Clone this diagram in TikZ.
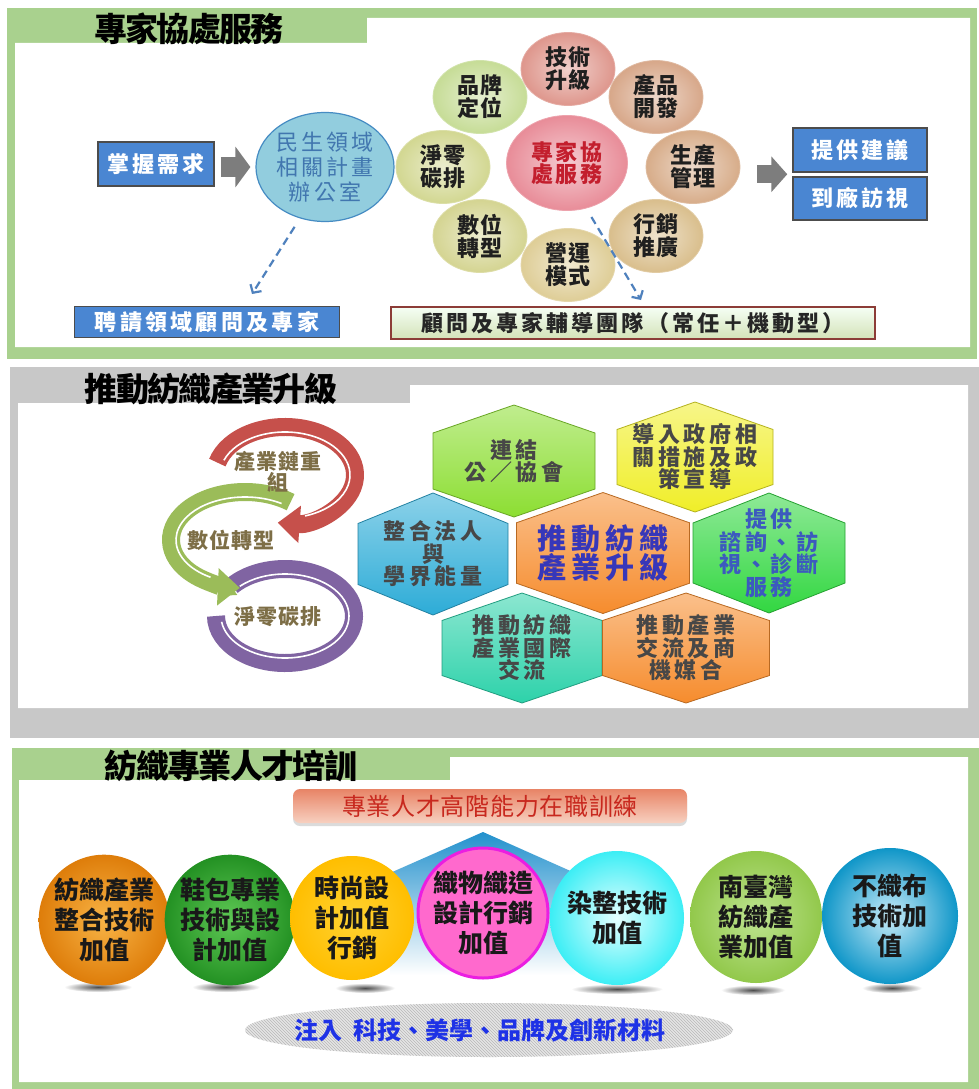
\documentclass[tikz,border=0pt]{standalone}
\usepackage{fontspec}
\setmainfont{Noto Sans CJK TC}
\usetikzlibrary{arrows.meta,shapes.geometric,patterns,positioning,calc,shadows}

\definecolor{framegreen}{RGB}{169,209,142}
\definecolor{framegray}{RGB}{200,200,200}
\definecolor{boxblue}{RGB}{74,134,210}
\definecolor{officefill}{RGB}{146,205,222}
\definecolor{officeline}{RGB}{70,140,195}
\definecolor{officeink}{RGB}{65,118,175}
\definecolor{arrowgray}{RGB}{125,125,125}
\definecolor{dashblue}{RGB}{79,129,189}
\definecolor{coreink}{RGB}{195,30,45}
\definecolor{corefill}{RGB}{232,140,152}
\definecolor{techc}{RGB}{222,150,140}
\definecolor{prodc}{RGB}{215,167,137}
\definecolor{mgmtc}{RGB}{215,172,137}
\definecolor{mktc}{RGB}{217,190,140}
\definecolor{modelc}{RGB}{222,205,150}
\definecolor{digic}{RGB}{212,212,145}
\definecolor{zeroc}{RGB}{210,215,145}
\definecolor{brandc}{RGB}{198,220,150}
\definecolor{teamline}{RGB}{140,60,55}
\definecolor{ringred}{RGB}{198,80,75}
\definecolor{ringgreen}{RGB}{155,188,89}
\definecolor{ringpurple}{RGB}{128,100,162}
\definecolor{ringink}{RGB}{125,110,70}
\definecolor{hexlime}{RGB}{140,222,50}
\definecolor{hexyellow}{RGB}{240,238,40}
\definecolor{hexblue}{RGB}{45,172,215}
\definecolor{hexorange}{RGB}{246,140,45}
\definecolor{hexgreen}{RGB}{50,215,65}
\definecolor{hexteal}{RGB}{45,210,170}
\definecolor{hexinkblue}{RGB}{60,90,190}
\definecolor{coreblue}{RGB}{55,55,185}
\definecolor{courseink}{RGB}{200,40,30}
\definecolor{pinkfill}{RGB}{255,105,205}
\definecolor{pinkline}{RGB}{235,30,225}
\definecolor{injectink}{RGB}{30,50,230}

\newcommand\fsz[3]{\fontsize{#1}{#2}\selectfont\addfontfeature{LetterSpace=#3}}

% honeycomb cell: [text style]{name}{x}{y}{w}{h}{colour}{text}
\newcommand\hexcell[8][hextext]{%
  \path[hexbody=#7] ({#3},{#4-#6/2}) -- ({#3+#5/2},{#4-#6/4}) -- ({#3+#5/2},{#4+#6/4})
    -- ({#3},{#4+#6/2}) -- ({#3-#5/2},{#4+#6/4}) -- ({#3-#5/2},{#4-#6/4}) -- cycle;
  \node[#1] (#2) at (#3,#4) {#8};
}

\tikzset{
  every node/.style={align=center, inner sep=0pt},
  ttl/.style={font=\bfseries\fsz{33}{34}{-5}, text=black},
  bluebox/.style={draw=black!70, line width=1.5pt, fill=boxblue, text=white, font=\bfseries\fsz{22}{22}{15}},
  office/.style={ellipse, draw=officeline, line width=1.2pt, fill=officefill, text=officeink,
    font=\fsz{22}{25}{14}, minimum width=138pt, minimum height=109pt},
  petal/.style={ellipse, minimum width=94pt, minimum height=73pt, inner color=#1!45!white, outer color=#1,
    draw=#1!80!white, line width=0.8pt, text=black!88, font=\bfseries\fsz{22}{23}{9}},
  teambox/.style={draw=teamline, line width=1.5pt, top color=green!4!white, bottom color={rgb,255:red,212;green,226;blue,184},
    text=black!85, font=\bfseries\fsz{22}{22}{14}, minimum width=484pt, minimum height=32pt},
  blockarrow/.style={draw=arrowgray, line width=20pt, -{Triangle[length=15pt,width=40pt]}},
  dasharrow/.style={draw=dashblue, line width=2.2pt, dash pattern=on 8pt off 5pt, shorten <=10pt,
    -{Straight Barb[length=6pt,width=13pt]}},
  ring/.style={draw=#1, line width=18pt},
  shine/.style={draw=white, line width=1.6pt},
  ringtext/.style={text=ringink, font=\bfseries\fsz{21}{16}{5}},
  hexbody/.style={top color=#1!55!white, bottom color=#1, draw=#1!75!black, line width=0.8pt},
  hextext/.style={text=black!72, font=\bfseries\fsz{22}{22.5}{17}},
  sphere/.style={circle, minimum size=#1, text=black!90, font=\bfseries\fsz{25}{30}{0}},
  blob/.style={inner color=black!70, outer color=white}
}

\begin{document}
\begin{tikzpicture}[x=1pt,y=-1pt]
\useasboundingbox (0,0) rectangle (979,1089);
\fill[white] (0,0) rectangle (979,1089);

% ---- 專家協處服務 ----
\fill[framegreen] (7,8) rectangle (977,359);
\fill[white] (15,347) -- (15,43) -- (367,43) -- (367,18) -- (970,18) -- (970,347) -- cycle;
\node[ttl] (t1) at (189,29) {專家協處服務};

\node[bluebox, minimum width=116pt, minimum height=44pt] (need) at (156,164) {掌握需求};
\node[office] (office) at (325,167) {民生領域\\相關計畫\\辦公室};
\draw[blockarrow, shorten <=6pt, shorten >=5pt] (office.west -| need.east) -- (office.west);

\node[petal=brandc] (brand) at (480,97) {品牌\\定位};
\node[petal=zeroc] (netzero) at (443,167) {淨零\\碳排};
\node[petal=digic] (digital) at (480,236) {數位\\轉型};
\node[petal=modelc] (model) at (568,265) {營運\\模式};
\node[petal=mktc] (market) at (656,236) {行銷\\推廣};
\node[petal=mgmtc] (manage) at (693,167) {生產\\管理};
\node[petal=prodc] (product) at (656,97) {產品\\開發};
\node[petal=techc] (tech) at (568,69) {技術\\升級};
\node[ellipse, minimum width=121pt, minimum height=95pt, inner color=corefill!45!white, outer color=corefill,
  draw=corefill!80!white, line width=0.8pt, text=coreink, font=\bfseries\fsz{22}{22}{13}] (core) at (567,163) {專家協\\處服務};

\node[bluebox, minimum width=134pt, minimum height=44pt] (advice) at (860,150) {提供建議};
\node[bluebox, minimum width=134pt, minimum height=43pt] (visit) at (860,198.5) {到廠訪視};
\coordinate (boxgap) at ($(advice.west)!.5!(visit.west)$);
\draw[blockarrow, line width=18pt, -{Triangle[length=16pt,width=35pt]}, shorten <=17pt, shorten >=5pt]
  (manage.east |- boxgap) -- (boxgap);

\node[bluebox, minimum width=265pt, minimum height=31pt] (hire) at (207,322) {聘請領域顧問及專家};
\node[teambox] (team) at (633,323) {顧問及專家輔導團隊（常任＋機動型）};
\coordinate (hiretip) at (252,294);
\coordinate (teamtip) at (641,300);
\draw[dasharrow] (office.-116) -- (hiretip);
\draw[dasharrow] (core.-67) -- (teamtip);

% ---- 推動紡織產業升級 ----
\fill[framegray] (10,367) rectangle (979,738);
\fill[white] (18,708) -- (18,403) -- (410,403) -- (410,385) -- (968,385) -- (968,708) -- cycle;
\node[ttl] (t2) at (211,389) {推動紡織產業升級};

\draw[ring=ringpurple] ({285+69*cos(-140)},{616+47*sin(-140)}) arc[start angle=-140, end angle=180, x radius=69, y radius=47];
\draw[shine] ({285+64*cos(-135)},{616+42*sin(-135)}) arc[start angle=-135, end angle=172, x radius=64, y radius=42];
\draw[ring=ringgreen, -{Triangle[length=22pt,width=36pt]}] ({245+74*cos(-52)},{540+48*sin(-52)})
  arc[start angle=-52, end angle=-266, x radius=74, y radius=48];
\draw[shine] ({245+69*cos(-58)},{540+43*sin(-58)}) arc[start angle=-58, end angle=-240, x radius=69, y radius=43];
\draw[ring=ringred, -{Triangle[length=22pt,width=36pt]}] ({285+70*cos(-165)},{475+48*sin(-165)})
  arc[start angle=-165, end angle=96, x radius=70, y radius=48];
\draw[shine] ({285+65*cos(-160)},{475+43*sin(-160)}) arc[start angle=-160, end angle=72, x radius=65, y radius=43];

\node[ringtext] (chain) at (278,472) {產業鏈重\\組};
\node[ringtext] (digi) at (231,540) {數位轉型};
\node[ringtext] (zero) at (278,617) {淨零碳排};

\hexcell{link}{514}{461}{162}{112}{hexlime}{連結\\公／協會}
\hexcell{policy}{695}{457}{156}{110}{hexyellow}{導入政府相\\關措施及政\\策宣導}
\hexcell{academy}{433}{554}{150}{122}{hexblue}{整合法人\\與\\學界能量}
\hexcell[hextext, text=hexinkblue]{consult}{769}{553}{152}{120}{hexgreen}{提供\\諮詢、訪\\視、診斷\\服務}
\hexcell{intl}{522}{648}{160}{110}{hexteal}{推動紡織\\產業國際\\交流}
\hexcell{match}{686}{648}{167}{110}{hexorange}{推動產業\\交流及商\\機媒合}
\hexcell[text=coreblue, font=\bfseries\fsz{29}{29}{18}]{upgrade}{603}{553}{173}{121}{hexorange}{推動紡織\\產業升級}

% ---- 紡織專業人才培訓 ----
\fill[framegreen] (12,748) rectangle (979,1089);
\fill[white] (19,1082) -- (19,780) -- (450,780) -- (450,757) -- (968,757) -- (968,1082) -- cycle;
\node[ttl] (t3) at (231,766) {紡織專業人才培訓};

\node[rounded corners=7pt, minimum width=394pt, minimum height=34pt,
  top color={rgb,255:red,232;green,132;blue,102}, bottom color={rgb,255:red,247;green,208;blue,192},
  drop shadow={shadow xshift=0pt, shadow yshift=-3pt, fill=gray!55},
  text=courseink, font=\fsz{24}{26}{3}] (course) at (490,806) {專業人才高階能力在職訓練};

\path[top color={rgb,255:red,35;green,145;blue,205}, bottom color=white]
  (483,832) -- (575,873) -- (575,975) -- (390,975) -- (390,873) -- cycle;

\shade[blob] (98,987) ellipse [x radius=34, y radius=5];
\shade[blob] (226,987) ellipse [x radius=34, y radius=5];
\shade[blob] (365,988) ellipse [x radius=30, y radius=5];
\shade[blob] (617,989) ellipse [x radius=46, y radius=5];
\shade[blob] (753,990) ellipse [x radius=32, y radius=5];
\shade[blob] (892,988) ellipse [x radius=30, y radius=5];

\node[sphere=124pt, inner color={rgb,255:red,248;green,180;blue,70}, outer color={rgb,255:red,222;green,125;blue,10}] (s1) at (104,920) {紡織產業\\整合技術\\加值};
\node[sphere=124pt, inner color={rgb,255:red,95;green,200;blue,85}, outer color={rgb,255:red,35;green,145;blue,35}] (s2) at (230,920) {鞋包專業\\技術與設\\計加值};
\node[sphere=124pt, inner color={rgb,255:red,255;green,210;blue,50}, outer color={rgb,255:red,255;green,190;blue,0}] (s3) at (352,918) {時尚設\\計加值\\行銷};
\node[sphere=130pt, fill=pinkfill, draw=pinkline, line width=3pt] (s4) at (483,913) {織物織造\\設計行銷\\加值};
\node[sphere=134pt, inner color={rgb,255:red,230;green,255;blue,255}, outer color={rgb,255:red,60;green,238;blue,245}] (s5) at (617,918) {染整技術\\加值};
\node[sphere=132pt, inner color={rgb,255:red,190;green,228;blue,145}, outer color={rgb,255:red,146;green,200;blue,75}] (s6) at (756,917) {南臺灣\\紡織產\\業加值};
\node[sphere=136pt, inner color={rgb,255:red,200;green,235;blue,248}, outer color={rgb,255:red,15;green,150;blue,200}] (s7) at (890,916) {不織布\\技術加\\值};

\path[fill=gray!20] (489,1030) ellipse [x radius=244, y radius=27];
\path[pattern=north west lines, pattern color=gray!55] (489,1030) ellipse [x radius=244, y radius=27];
\node[text=injectink, font=\bfseries\fsz{24}{26}{0}] (inject) at (480,1030) {注入\ \ 科技、美學、品牌及創新材料};
\end{tikzpicture}
\end{document}
